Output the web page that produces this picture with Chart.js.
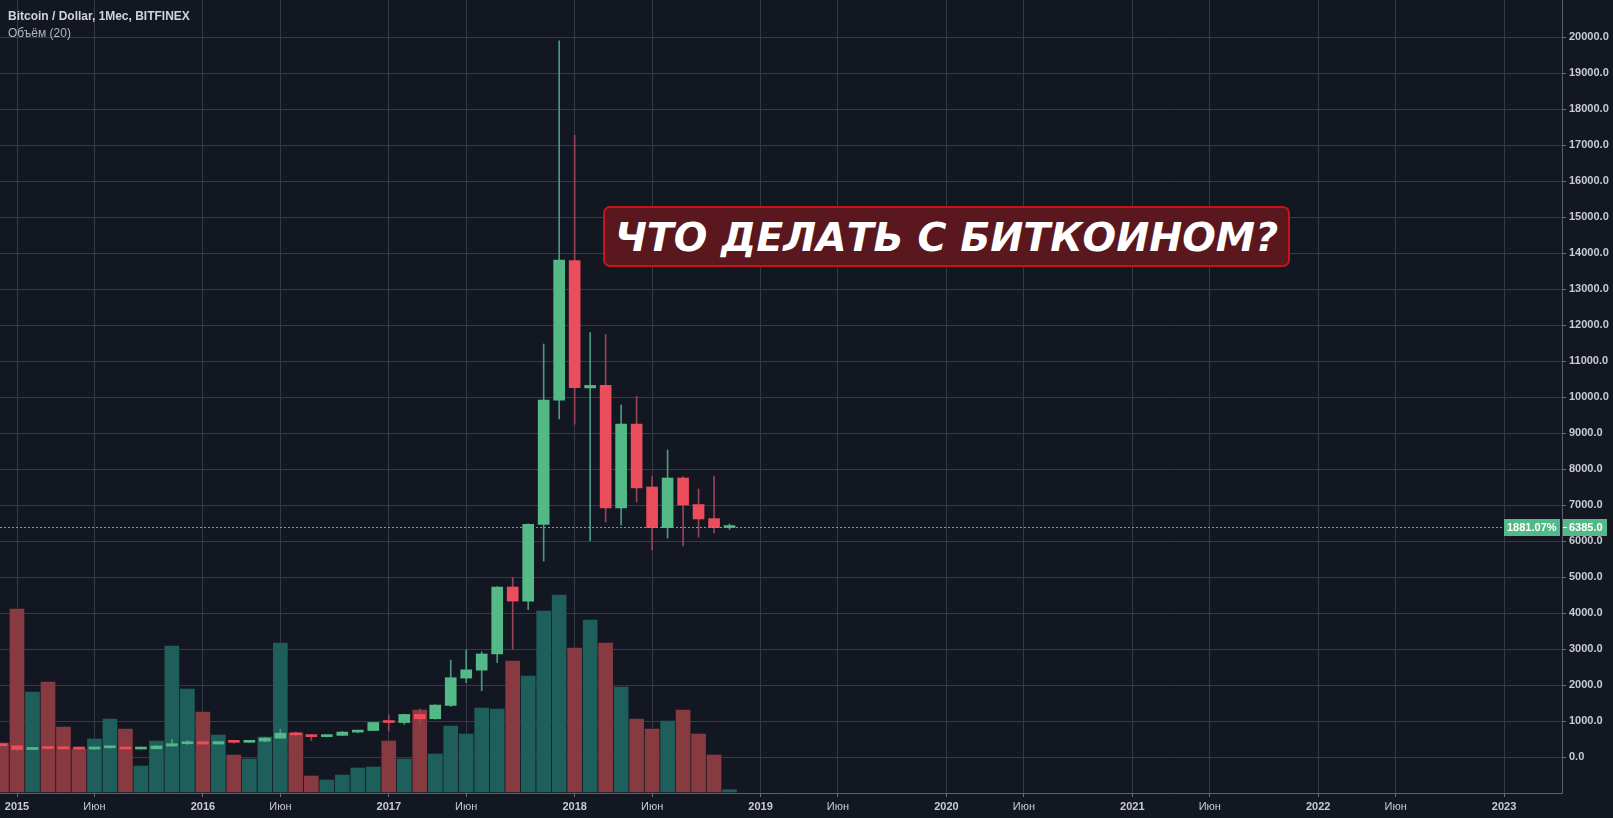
<!DOCTYPE html>
<html>
<head>
<meta charset="utf-8">
<script src="https://cdn.jsdelivr.net/npm/chart.js@4.4.1/dist/chart.umd.min.js"></script>
<style>
html, body { margin: 0; padding: 0; background: #131722; overflow: hidden; }
#wrap { position: relative; width: 1613px; height: 818px; }
#head { position: absolute; left: 8px; top: 8px; font-family: "Liberation Sans", Arial, sans-serif; pointer-events: none; }
#head .t { font-size: 12px; font-weight: bold; color: #d1d4dc; line-height: 16.6px; }
#head .v { font-size: 12px; color: #b2b5be; line-height: 16.6px; }
#banner {
    position: absolute; left: 603px; top: 206px; width: 687px; height: 61px;
    box-sizing: border-box; border: 2px solid #c4141d; border-radius: 7px;
    background: #5a171d; color: #fff;
    font: italic bold 39.5px "DejaVu Sans", sans-serif;
    display: flex; align-items: center; justify-content: center; white-space: nowrap;
}
</style>
</head>
<body>
<div id="wrap">
    <canvas id="myChart"></canvas>
    <div id="head">
        <div class="t">Bitcoin / Dollar, 1Мес, BITFINEX</div>
        <div class="v">Объём (20)</div>
    </div>
    <div id="banner">ЧТО ДЕЛАТЬ С БИТКОИНОМ?</div>
</div>
<script>
// monthly candles, Dec 2014 .. Nov 2018
const months = [
    "2014-12",
    "2015-01", "2015-02", "2015-03", "2015-04", "2015-05", "2015-06", "2015-07", "2015-08", "2015-09", "2015-10", "2015-11", "2015-12",
    "2016-01", "2016-02", "2016-03", "2016-04", "2016-05", "2016-06", "2016-07", "2016-08", "2016-09", "2016-10", "2016-11", "2016-12",
    "2017-01", "2017-02", "2017-03", "2017-04", "2017-05", "2017-06", "2017-07", "2017-08", "2017-09", "2017-10", "2017-11", "2017-12",
    "2018-01", "2018-02", "2018-03", "2018-04", "2018-05", "2018-06", "2018-07", "2018-08", "2018-09", "2018-10", "2018-11",
];
const opens = [
    378,
    320, 217, 254, 244, 236, 230, 264, 284, 230, 236, 313, 377,
    430, 368, 436, 416, 448, 531, 670, 624, 574, 609, 700, 743,
    975, 965, 1190, 1070, 1440, 2200, 2420, 2870, 4730, 4340, 6470, 9920,
    13800, 10260, 10330, 6925, 9258, 7508, 6379, 7758, 7020, 6630, 6380,
];
const highs = [
    381,
    320, 265, 300, 262, 247, 268, 318, 285, 246, 330, 500, 467,
    463, 448, 440, 467, 550, 780, 704, 627, 617, 720, 750, 975,
    1175, 1200, 1340, 1460, 2700, 2980, 2930, 4740, 5000, 6490, 11480, 19900,
    17280, 11800, 11750, 9786, 10028, 7795, 8536, 7800, 7453, 7814, 6480,
];
const lows = [
    310,
    166, 212, 236, 214, 228, 218, 253, 198, 225, 236, 305, 350,
    350, 366, 395, 414, 437, 525, 605, 470, 568, 603, 680, 740,
    730, 915, 890, 1060, 1410, 2070, 1850, 2630, 3000, 4100, 5450, 9400,
    9250, 6017, 6536, 6453, 7092, 5758, 6092, 5869, 6119, 6231, 6330,
];
const closes = [
    320,
    217, 254, 244, 236, 230, 264, 284, 230, 236, 313, 377, 430,
    368, 436, 416, 448, 531, 670, 624, 574, 609, 700, 743, 966,
    965, 1190, 1070, 1450, 2210, 2430, 2870, 4730, 4340, 6470, 9920, 13810,
    10270, 10330, 6925, 9258, 7480, 6379, 7758, 7008, 6620, 6380, 6385,
];
const volumes = [
    490,
    1830, 1000, 1100, 650, 430, 530, 730, 630, 260, 510, 1460, 1030,
    800, 570, 370, 330, 550, 1490, 590, 160, 120, 170, 240, 250,
    510, 330, 820, 380, 660, 580, 840, 830, 1310, 1160, 1810, 1970,
    1440, 1720, 1490, 1050, 730, 630, 710, 820, 580, 370, 23,
];
const yearLabels = ["2015", "2016", "2017", "2018", "2019", "2020", "2021", "2022", "2023"];
const midLabel = "Июн";
const priceTicks = [0, 1000, 2000, 3000, 4000, 5000, 6000, 7000, 8000, 9000, 10000,
    11000, 12000, 13000, 14000, 15000, 16000, 17000, 18000, 19000, 20000];
const lastPrice = 6385;
const lastPct = "1881.07%";

const UP = "#53b987";
const DOWN = "#eb4d5c";
const FONT = "'Liberation Sans', Arial, sans-serif";
const X_MIN = -1.0975;
const X_MAX = 99.74;

// month index, 0 = Jan 2015
const mIdx = months.map((s) => {
    const [y, m] = s.split("-").map(Number);
    return (y - 2015) * 12 + m - 1;
});
const isUp = closes.map((c, i) => c >= opens[i]);

const xTicks = [];
yearLabels.forEach((y, i) => {
    [i * 12, i * 12 + 5].forEach((v) => {
        if (v >= X_MIN && v <= X_MAX) xTicks.push(v);
    });
});

const lastPricePlugin = {
    id: "lastPrice",
    afterDraw(chart) {
        const { ctx, chartArea, scales } = chart;
        const py = Math.round(scales.y.getPixelForValue(lastPrice));
        const right = chartArea.right;
        ctx.save();
        ctx.font = "bold 11px " + FONT;
        const pctW = Math.round(ctx.measureText(lastPct).width) + 6;
        // dotted line
        ctx.strokeStyle = "#4cb59b";
        ctx.lineWidth = 1;
        ctx.setLineDash([2, 2]);
        ctx.beginPath();
        ctx.moveTo(chartArea.left, py + 0.5);
        ctx.lineTo(right - pctW - 2, py + 0.5);
        ctx.stroke();
        ctx.setLineDash([]);
        // boxes
        ctx.fillStyle = UP;
        ctx.fillRect(right - pctW - 2, py - 8, pctW, 17);
        ctx.fillRect(right + 1, py - 8, 44, 17);
        ctx.fillStyle = "#ffffff";
        ctx.textBaseline = "middle";
        ctx.textAlign = "left";
        ctx.fillText(lastPct, right - pctW + 1, py + 1);
        ctx.fillText(lastPrice.toFixed(1), right + 7, py + 1);
        ctx.fillRect(right + 1, py, 4, 1);
        ctx.restore();
    },
};

const ctx = document.getElementById("myChart");

const chart = new Chart(ctx, {
    type: "bar",
    data: {
        datasets: [
            {
                label: "Объём",
                data: mIdx.map((x, i) => ({ x: x, y: volumes[i] })),
                yAxisID: "yv",
                backgroundColor: isUp.map((u) => (u ? "#1e5f5c" : "#873a3f")),
                barThickness: 14,
                grouped: false,
                order: 3,
            },
            {
                label: "wick",
                data: mIdx.map((x, i) => ({ x: x, y: [lows[i], highs[i]] })),
                yAxisID: "y",
                backgroundColor: isUp.map((u) => (u ? "#4a9980" : "#9a4258")),
                barThickness: 1,
                grouped: false,
                order: 2,
            },
            {
                label: "Bitcoin / Dollar",
                data: mIdx.map((x, i) => ({ x: x, y: [opens[i], closes[i]] })),
                yAxisID: "y",
                backgroundColor: isUp.map((u) => (u ? UP : DOWN)),
                barThickness: 11,
                minBarLength: 2,
                grouped: false,
                order: 1,
            },
        ],
    },
    options: {
        responsive: true,
        maintainAspectRatio: false,
        animation: false,
        layout: { padding: 0 },
        plugins: {
            legend: { display: false },
            tooltip: { enabled: false },
            title: { display: false },
        },
        scales: {
            x: {
                type: "linear",
                bounds: "data",
                offset: false,
                min: X_MIN,
                max: X_MAX,
                afterBuildTicks: (scale) => {
                    scale.ticks = xTicks.map((v) => ({ value: v }));
                },
                afterFit: (scale) => {
                    scale.height = 25;
                    scale.paddingLeft = 0;
                    scale.paddingRight = 0;
                },
                ticks: {
                    autoSkip: false,
                    maxRotation: 0,
                    padding: 3,
                    color: "#c8cbd4",
                    font: (c) => ({
                        family: FONT,
                        size: 11,
                        weight: c.tick && c.tick.value % 12 === 0 ? "bold" : "normal",
                    }),
                    callback: (v) => (v % 12 === 0 ? yearLabels[v / 12] : midLabel),
                },
                grid: { offset: false, color: "#363a47", tickColor: "#6b6e79", tickLength: 4 },
                border: { color: "#5d606b" },
            },
            y: {
                type: "linear",
                position: "right",
                bounds: "data",
                min: -992,
                max: 21036,
                afterBuildTicks: (scale) => {
                    scale.ticks = priceTicks.map((v) => ({ value: v }));
                },
                afterFit: (scale) => {
                    scale.width = 51;
                    scale.paddingTop = 0;
                    scale.paddingBottom = 0;
                },
                ticks: {
                    padding: 3,
                    color: "#c8cbd4",
                    font: { family: FONT, size: 11, weight: "bold" },
                    callback: (v) => Number(v).toFixed(1),
                },
                grid: { color: "#363a47", tickColor: "#6b6e79", tickLength: 4 },
                border: { color: "#5d606b" },
            },
            yv: {
                type: "linear",
                display: false,
                min: -10,
                max: 7920,
                grid: { display: false },
            },
        },
    },
    plugins: [lastPricePlugin],
});
</script>
</body>
</html>
